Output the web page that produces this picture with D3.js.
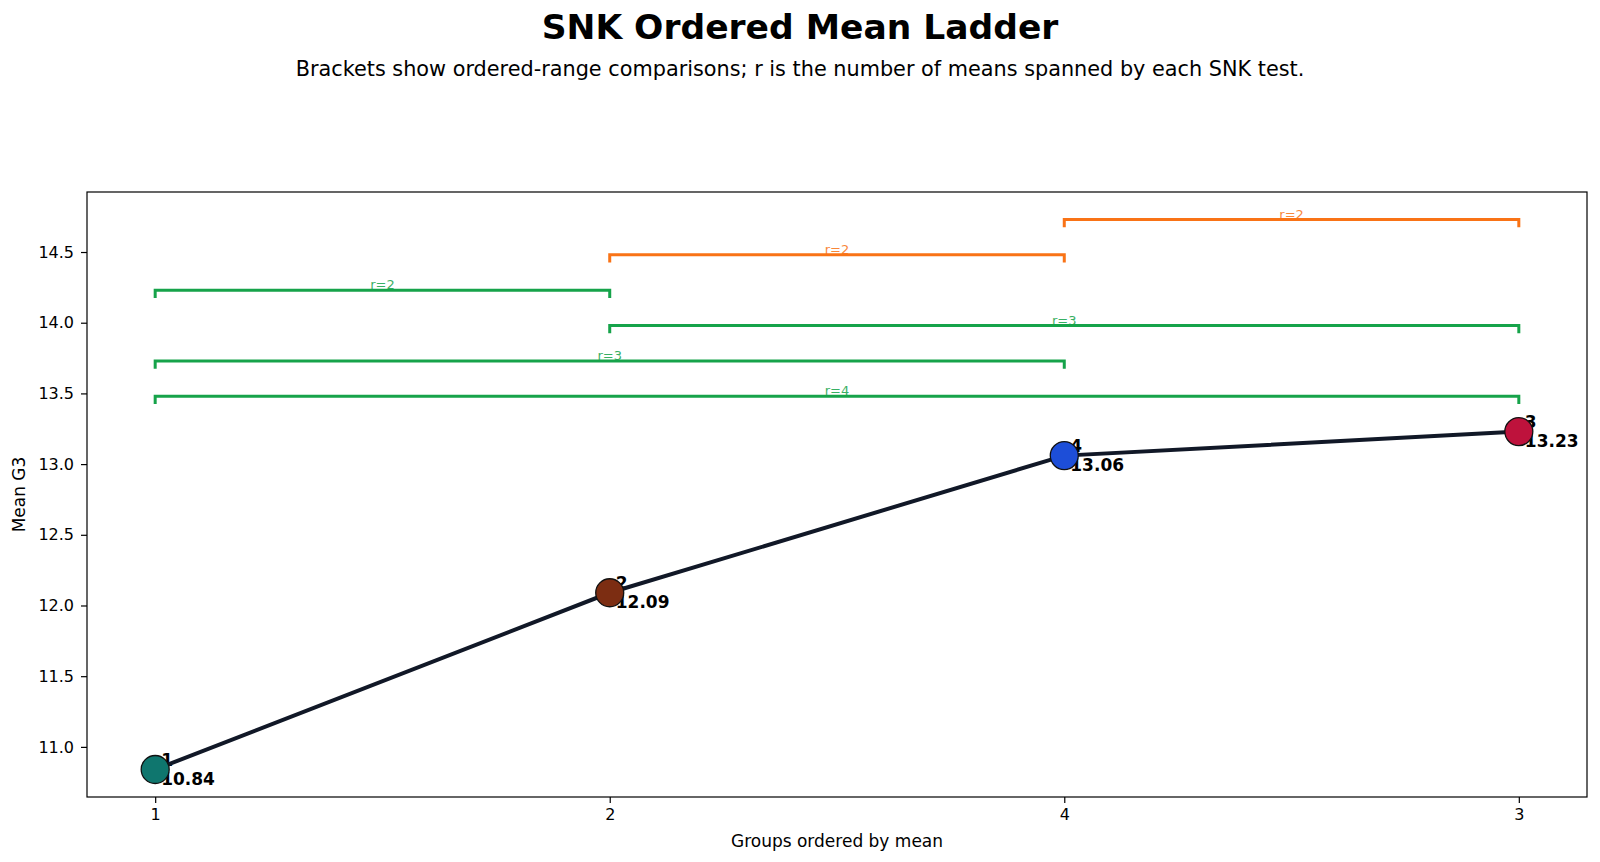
<!DOCTYPE html>
<html>
<head>
<meta charset="utf-8">
<script src="https://cdn.jsdelivr.net/npm/d3@7"></script>
<style>
  body { margin: 0; background: #fff; }
  text { font-family: "DejaVu Sans", sans-serif; }
</style>
</head>
<body>
<svg id="chart"></svg>
<script>
// groups in ladder order and their means
const groups = ["1", "2", "4", "3"];
const means = [10.84, 12.09, 13.06, 13.23];
const pointColors = ["#0f766e", "#7c2d12", "#1d4ed8", "#be123c"];

// SNK brackets (indices into the ordered groups)
const bracketFrom = [0, 0, 1, 0, 1, 2];
const bracketTo = [3, 2, 3, 1, 2, 3];
const bracketR = [4, 3, 3, 2, 2, 2];
const bracketLevel = [13.48, 13.73, 13.98, 14.23, 14.48, 14.73];
const bracketSig = [true, true, true, true, false, false];

const yTicks = [11.0, 11.5, 12.0, 12.5, 13.0, 13.5, 14.0, 14.5];

const W = 1600, H = 862;
const margin = { top: 192, right: 13, bottom: 65, left: 87 };
const width = W - margin.left - margin.right;
const height = H - margin.top - margin.bottom;

const svg = d3.select("#chart").attr("width", W).attr("height", H);
svg.append("rect").attr("width", W).attr("height", H).attr("fill", "#fff");

const g = svg.append("g").attr("transform", `translate(${margin.left},${margin.top})`);

const x = d3.scaleLinear().domain([-0.15, groups.length - 1 + 0.15]).range([0, width]);

const yMin = d3.min(means);
const yMax = d3.max(bracketLevel);
const pad = (yMax - yMin) * 0.05;
const y = d3.scaleLinear().domain([yMin - pad, yMax + pad]).range([height, 0]);

const tickLen = 0.055;
const green = "#16a34a", orange = "#f97316";

// point labels (drawn under the line and markers)
const labels = g.selectAll(".pt-label")
  .data(groups)
  .enter()
  .append("text")
  .attr("class", "pt-label")
  .attr("x", (d, i) => x(i) + 6)
  .attr("y", (d, i) => y(means[i]))
  .style("font-size", "17px")
  .style("font-weight", "bold")
  .style("fill", "#000");
labels.append("tspan").attr("x", (d, i) => x(i) + 6).attr("dy", "-0.2em").text((d) => d);
labels.append("tspan").attr("x", (d, i) => x(i) + 6).attr("dy", "1.1em").text((d, i) => means[i].toFixed(2));

// brackets
const br = g.selectAll(".bracket")
  .data(bracketR.map((r, i) => ({ r, a: bracketFrom[i], b: bracketTo[i], lv: bracketLevel[i], sig: bracketSig[i] })))
  .enter()
  .append("g")
  .attr("class", "bracket");

br.append("path")
  .attr("d", (d) => `M${x(d.a)},${y(d.lv - tickLen)}V${y(d.lv)}H${x(d.b)}V${y(d.lv - tickLen)}`)
  .attr("fill", "none")
  .attr("stroke", (d) => (d.sig ? green : orange))
  .attr("stroke-width", 3);

br.append("text")
  .attr("x", (d) => x((d.a + d.b) / 2))
  .attr("y", (d) => y(d.lv) - 1)
  .attr("text-anchor", "middle")
  .style("font-size", "13px")
  .style("fill", (d) => (d.sig ? green : orange))
  .style("opacity", 0.85)
  .text((d) => `r=${d.r}`);

// mean ladder line
g.append("path")
  .datum(means)
  .attr("d", d3.line().x((d, i) => x(i)).y((d) => y(d)))
  .attr("fill", "none")
  .attr("stroke", "#111827")
  .attr("stroke-width", 4);

g.selectAll(".pt")
  .data(means)
  .enter()
  .append("circle")
  .attr("class", "pt")
  .attr("cx", (d, i) => x(i))
  .attr("cy", (d) => y(d))
  .attr("r", 14)
  .attr("fill", (d, i) => pointColors[i])
  .attr("stroke", "#111")
  .attr("stroke-width", 1.3);

// axes
const xAxis = g.append("g")
  .attr("transform", `translate(0,${height})`)
  .call(d3.axisBottom(x).tickValues(d3.range(groups.length)).tickFormat((i) => groups[i]).tickSize(6).tickPadding(6));
const yAxis = g.append("g")
  .call(d3.axisLeft(y).tickValues(yTicks).tickFormat(d3.format(".1f")).tickSize(6).tickPadding(7));
[xAxis, yAxis].forEach((a) => {
  a.select(".domain").remove();
  a.selectAll("text").style("font-size", "16px").style("font-family", "DejaVu Sans").style("fill", "#000");
  a.selectAll("line").attr("stroke", "#000").attr("stroke-width", 1.2);
});

g.append("rect")
  .attr("width", width)
  .attr("height", height)
  .attr("fill", "none")
  .attr("stroke", "#000")
  .attr("stroke-width", 1.2);

g.append("text")
  .attr("x", width / 2)
  .attr("y", height + 50)
  .attr("text-anchor", "middle")
  .style("font-size", "17px")
  .text("Groups ordered by mean");

g.append("text")
  .attr("transform", `translate(${-62},${height / 2}) rotate(-90)`)
  .attr("text-anchor", "middle")
  .style("font-size", "17px")
  .text("Mean G3");

svg.append("text")
  .attr("x", W / 2)
  .attr("y", 39)
  .attr("text-anchor", "middle")
  .style("font-size", "34.5px")
  .style("font-weight", "bold")
  .text("SNK Ordered Mean Ladder");

svg.append("text")
  .attr("x", W / 2)
  .attr("y", 76)
  .attr("text-anchor", "middle")
  .style("font-size", "20.8px")
  .text("Brackets show ordered-range comparisons; r is the number of means spanned by each SNK test.");
</script>
</body>
</html>
